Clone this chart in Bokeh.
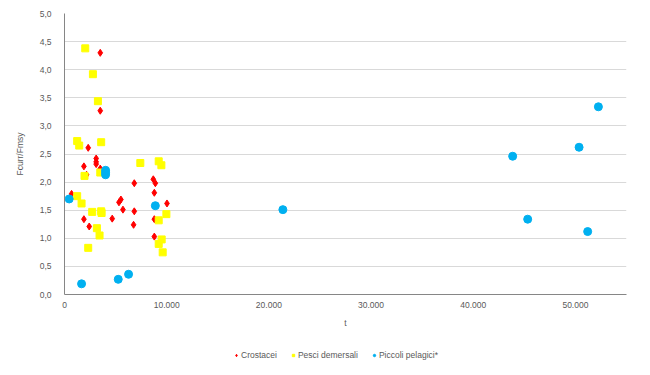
from bokeh.plotting import figure
from bokeh.layouts import column
from bokeh.models import FixedTicker, Legend, LegendItem, Range1d
from bokeh.embed import file_html
from bokeh.resources import INLINE

# Crostacei
cro_x = [3500, 3500, 2320, 1900, 3100, 3100, 3100, 3500, 2160, 690, 1900, 2420, 4670,
         5330, 5520, 5720, 6830, 6830, 6760, 8690, 8890, 8790, 8790, 8790, 10030]
cro_y = [4.30, 3.27, 2.61, 2.28, 2.42, 2.36, 2.32, 2.24, 2.13, 1.79, 1.34, 1.21, 1.35,
         1.64, 1.69, 1.51, 1.98, 1.48, 1.24, 2.05, 1.98, 1.81, 1.34, 1.03, 1.62]

# Pesci demersali
dem_x = [2030, 2780, 3270, 1240, 1440, 3590, 1960, 3500, 1240, 1670, 2710, 3590, 3630,
         3170, 3430, 2320, 7420, 9220, 9480, 9220, 9970, 9510, 9220, 9610]
dem_y = [4.38, 3.92, 3.44, 2.73, 2.65, 2.71, 2.11, 2.17, 1.75, 1.62, 1.47, 1.48, 1.45,
         1.18, 1.05, 0.83, 2.34, 2.37, 2.30, 1.32, 1.43, 0.98, 0.90, 0.75]

# Piccoli pelagici*
pel_x = [460, 1670, 4020, 4020, 4020, 5260, 6270, 8890, 21370, 43860, 45330, 50360, 51200, 52250]
pel_y = [1.70, 0.19, 2.21, 2.17, 2.13, 0.27, 0.36, 1.58, 1.51, 2.46, 1.34, 2.62, 1.12, 3.34]

series_names = ["Crostacei", "Pesci demersali", "Piccoli pelagici*"]

x_ticks = [0, 10000, 20000, 30000, 40000, 50000]
x_labels = ["0", "10.000", "20.000", "30.000", "40.000", "50.000"]
y_ticks = [0, 0.5, 1, 1.5, 2, 2.5, 3, 3.5, 4, 4.5, 5]
y_labels = ["0,0", "0,5", "1,0", "1,5", "2,0", "2,5", "3,0", "3,5", "4,0", "4,5", "5,0"]

FONT = "Liberation Sans"
TXT = "#595959"
FS = "8.5px"
COLORS = ["#ff0000", "#ffff00", "#00b0f0"]

p = figure(width=640, height=338, output_backend="svg", toolbar_location=None,
           x_range=Range1d(0, 55000), y_range=Range1d(0, 5.0),
           min_border_left=64, min_border_right=14, min_border_top=13, min_border_bottom=44)
p.outline_line_color = None

p.scatter(cro_x, cro_y, marker="diamond", size=7, color=COLORS[0])
p.scatter(dem_x, dem_y, marker="square", size=7, color=COLORS[1])
p.scatter(pel_x, pel_y, marker="circle", size=8, color=COLORS[2])

p.xaxis.ticker = FixedTicker(ticks=x_ticks)
p.xaxis.major_label_overrides = {t: l for t, l in zip(x_ticks, x_labels)}
p.yaxis.ticker = FixedTicker(ticks=y_ticks)
p.yaxis.major_label_overrides = {t: l for t, l in zip(y_ticks, y_labels)}

for ax in (p.xaxis[0], p.yaxis[0]):
    ax.major_tick_line_color = None
    ax.minor_tick_line_color = None
    ax.axis_line_color = "#868686"
    ax.major_label_text_font = FONT
    ax.major_label_text_font_size = FS
    ax.major_label_text_color = TXT
    ax.axis_label_text_font = FONT
    ax.axis_label_text_font_size = FS
    ax.axis_label_text_font_style = "normal"
    ax.axis_label_text_color = TXT

p.xaxis.axis_label = "t"
p.yaxis.axis_label = "Fcurr/Fmsy"
p.xaxis.major_label_standoff = 1
p.yaxis.major_label_standoff = 7
p.xaxis.axis_label_standoff = 7
p.yaxis.axis_label_standoff = 12

p.xgrid.grid_line_color = None
p.ygrid.grid_line_color = "#d9d9d9"

# legend strip (its renderers' points lie outside its ranges, so only the legend shows)
lg = figure(width=640, height=30, output_backend="svg", toolbar_location=None,
            x_axis_type=None, y_axis_type=None, x_range=Range1d(-2, -1), y_range=Range1d(-2, -1),
            min_border_left=0, min_border_right=0, min_border_top=0, min_border_bottom=0)
lg.outline_line_color = None
lg.grid.visible = False
l1 = lg.scatter(cro_x[:1], cro_y[:1], marker="diamond", size=6, color=COLORS[0])
l2 = lg.scatter(dem_x[:1], dem_y[:1], marker="square", size=5, color=COLORS[1])
l3 = lg.scatter(pel_x[:1], pel_y[:1], marker="circle", size=5, color=COLORS[2])

legend = Legend(items=[LegendItem(label=series_names[0], renderers=[l1]),
                       LegendItem(label=series_names[1], renderers=[l2]),
                       LegendItem(label=series_names[2], renderers=[l3])],
                orientation="horizontal", location=(169, 8),
                label_text_font=FONT, label_text_font_size=FS, label_text_color=TXT,
                glyph_width=6, glyph_height=6, label_standoff=2, spacing=13,
                label_height=8, border_line_color=None, background_fill_alpha=0,
                padding=0, margin=0)
lg.add_layout(legend, "center")

layout = column(p, lg, spacing=0)
open("out.html", "w").write(file_html(layout, INLINE))
